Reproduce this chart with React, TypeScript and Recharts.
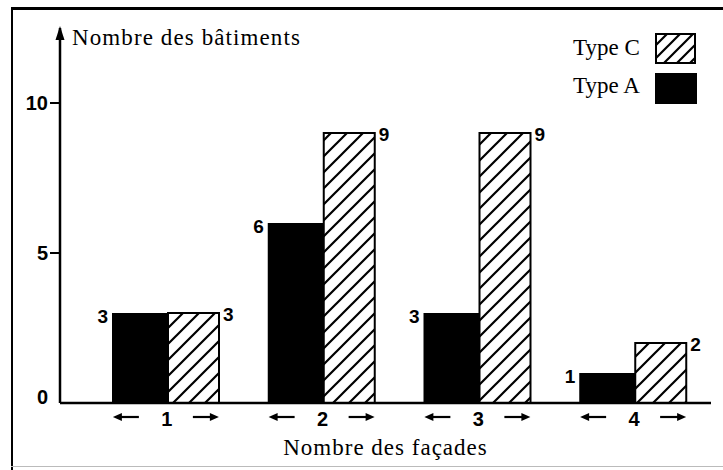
import React from "react";
import { BarChart, Bar, XAxis, YAxis, LabelList, Legend } from "recharts";

const categories = ["1", "2", "3", "4"];
const typeA = [3, 6, 3, 1];
const typeC = [3, 9, 9, 2];
const yTicks = [0, 5, 10];

const data = categories.map((cat, i) => ({ cat, a: typeA[i], c: typeC[i] }));

const SERIF = '"Liberation Serif", "DejaVu Serif", serif';
const SANS = '"Liberation Sans", Arial, sans-serif';

function HatchDef({ id, size }: { id: string; size: number }) {
  const s = size;
  const h = s / 4;
  return (
    <pattern id={id} patternUnits="userSpaceOnUse" width={s} height={s}>
      <path
        d={`M0,${s} L${s},0 M${-h},${h} L${h},${-h} M${s - h},${s + h} L${s + h},${s - h}`}
        stroke="#000"
        strokeWidth={2.2}
      />
    </pattern>
  );
}

// value labels: type A sits left of the bar top, type C right of it
function leftLabel(props: any) {
  const { x, y, value } = props;
  return (
    <text x={x - 4} y={y + 3} textAnchor="end" dominantBaseline="central"
      fontFamily={SANS} fontWeight="bold" fontSize={19} fill="#000">
      {value}
    </text>
  );
}

function rightLabel(props: any) {
  const { x, y, width, value } = props;
  return (
    <text x={x + width + 4} y={y + 1} textAnchor="start" dominantBaseline="central"
      fontFamily={SANS} fontWeight="bold" fontSize={19} fill="#000">
      {value}
    </text>
  );
}

function Arrow({ x1, x2, y }: { x1: number; x2: number; y: number }) {
  const dir = x2 > x1 ? 1 : -1;
  return (
    <g>
      <line x1={x1} y1={y} x2={x2 - dir * 6} y2={y} stroke="#000" strokeWidth={2.2} />
      <polygon points={`${x2},${y} ${x2 - dir * 9},${y - 4} ${x2 - dir * 9},${y + 4}`} fill="#000" />
    </g>
  );
}

function XTick(props: any) {
  const { x, y, payload } = props;
  const cx = x + 1;
  return (
    <g>
      <Arrow x1={cx - 28} x2={cx - 54} y={y + 14} />
      <text x={cx} y={y + 23} textAnchor="middle" fontFamily={SANS}
        fontWeight="bold" fontSize={20} fill="#000">
        {payload.value}
      </text>
      <Arrow x1={cx + 26} x2={cx + 52} y={y + 14} />
    </g>
  );
}

function YTick(props: any) {
  const { x, y, payload } = props;
  const isZero = payload.value === 0;
  return (
    <g>
      {!isZero && <line x1={x - 10} y1={y} x2={x} y2={y} stroke="#000" strokeWidth={2} />}
      <text x={x - 12} y={isZero ? y - 6 : y} textAnchor="end" dominantBaseline="central"
        fontFamily={SANS} fontWeight="bold" fontSize={20} fill="#000">
        {payload.value}
      </text>
    </g>
  );
}

function YTitle(props: any) {
  const vb = props.viewBox || {};
  const ax = vb.x + vb.width;
  const top = vb.y;
  return (
    <g>
      <polygon points={`${ax},${top - 2} ${ax - 4.5},${top + 12} ${ax + 4.5},${top + 12}`} fill="#000" />
      <text x={ax + 12} y={top + 17} fontFamily={SERIF} fontSize={23}
        style={{ letterSpacing: 1.1 }} fill="#000">
        Nombre des bâtiments
      </text>
    </g>
  );
}

function XTitle(props: any) {
  const vb = props.viewBox || {};
  return (
    <text x={vb.x + vb.width / 2} y={455} textAnchor="middle" fontFamily={SERIF}
      fontSize={23} style={{ letterSpacing: 1 }} fill="#000">
      Nombre des façades
    </text>
  );
}

function LegendBox() {
  const row: React.CSSProperties = { display: "flex", alignItems: "center", height: 30 };
  return (
    <div style={{ fontFamily: SERIF, fontSize: 23, color: "#000" }}>
      <div style={{ ...row, marginBottom: 10 }}>
        <span style={{ width: 82 }}>Type C</span>
        <svg width={41} height={31}>
          <defs>
            <HatchDef id="hatchLegend" size={13} />
          </defs>
          <rect x={1} y={1} width={39} height={29} fill="url(#hatchLegend)" stroke="#000" strokeWidth={2} />
        </svg>
      </div>
      <div style={row}>
        <span style={{ width: 82, position: "relative", top: -2 }}>Type A</span>
        <svg width={42} height={31}>
          <rect x={0} y={0} width={42} height={31} fill="#000" />
        </svg>
      </div>
    </div>
  );
}

export default function App() {
  return (
    <div style={{ position: "absolute", left: 0, top: 0, width: 723, height: 470, background: "#fff" }}>
      {/* scanned frame */}
      <div style={{ position: "absolute", left: 11, top: 7, width: 712, height: 3, background: "#000" }} />
      <div style={{ position: "absolute", left: 11, top: 7, width: 2, height: 463, background: "#000" }} />
      <div style={{ position: "absolute", left: 11, top: 466, width: 712, height: 1, background: "#bbb" }} />
      <BarChart
        width={723}
        height={470}
        data={data}
        barGap={0}
        margin={{ top: 28, right: 12, bottom: 0, left: 0 }}
        style={{ position: "absolute", left: 0, top: 0 }}
      >
        <defs>
          <HatchDef id="hatchC" size={16} />
        </defs>
        <XAxis
          dataKey="cat"
          height={67}
          padding={{ left: 28, right: 0 }}
          axisLine={{ stroke: "#000", strokeWidth: 2.5 }}
          tickLine={false}
          tickSize={0}
          tickMargin={0}
          tick={<XTick />}
          label={XTitle}
        />
        <YAxis
          width={60}
          domain={[0, 12.5]}
          ticks={yTicks}
          allowDataOverflow
          axisLine={{ stroke: "#000", strokeWidth: 2.5 }}
          tickLine={false}
          tickSize={0}
          tickMargin={0}
          tick={<YTick />}
          label={YTitle}
        />
        <Legend
          layout="vertical"
          align="center"
          verticalAlign="middle"
          wrapperStyle={{ left: 573, top: 33, width: 140 }}
          content={<LegendBox />}
        />
        <Bar dataKey="a" name="Type A" fill="#000" barSize={56} isAnimationActive={false}>
          <LabelList dataKey="a" content={leftLabel} />
        </Bar>
        <Bar dataKey="c" name="Type C" fill="url(#hatchC)" stroke="#000" strokeWidth={2}
          barSize={51} isAnimationActive={false}>
          <LabelList dataKey="c" content={rightLabel} />
        </Bar>
      </BarChart>
    </div>
  );
}
